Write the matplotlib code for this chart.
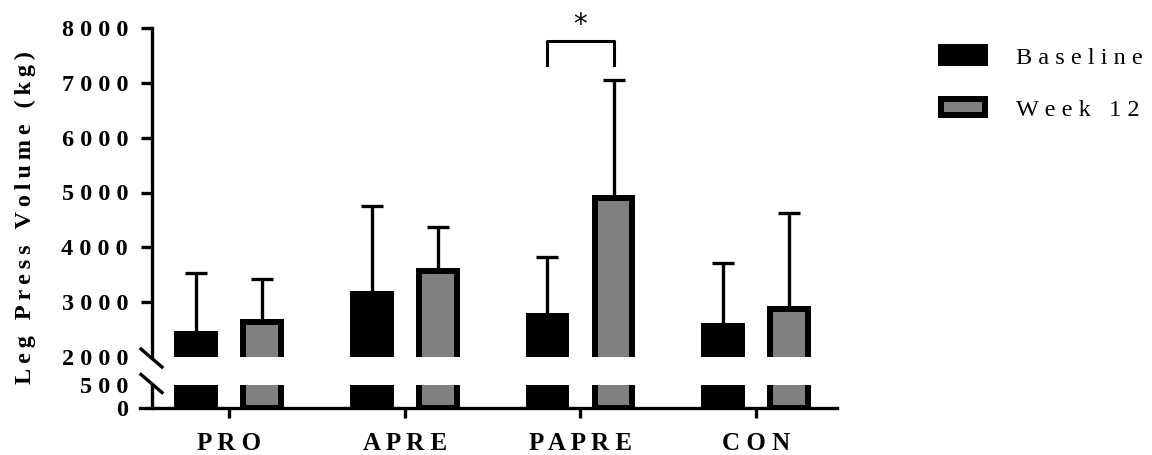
import matplotlib
matplotlib.use("Agg")
import matplotlib.pyplot as plt
import numpy as np

# ---- data ----
categories = ["PRO", "APRE", "PAPRE", "CON"]
series_names = ["Baseline", "Week 12"]
baseline = [2410, 3140, 2750, 2565]
week12 = [2625, 3570, 4900, 2880]
baseline_sd = [1115, 1620, 1070, 1150]
week12_sd = [795, 795, 2160, 1750]
upper_ticks = [2000, 3000, 4000, 5000, 6000, 7000, 8000]
lower_ticks = [0, 500]
y_label = "Leg Press Volume (kg)"
sig_pair = ("PAPRE", "*")


def spaced(s, sep=" "):
    return sep.join(list(s))


plt.rcParams['font.family'] = ['Liberation Serif', 'DejaVu Serif']

W, H = 1152, 455
fig = plt.figure(figsize=(W / 100, H / 100), dpi=100)


def fx(px):
    return px / W


def fy(py):
    return 1 - py / H


left, right = 140, 837
ax_up = fig.add_axes([fx(left), fy(356.7), fx(right) - fx(left), fy(28.3) - fy(356.7)])
ax_lo = fig.add_axes([fx(left), fy(408.3), fx(right) - fx(left), fy(385) - fy(408.3)])

x = np.arange(len(categories))
off = 0.188
bw = 0.216
lw_edge = 4.3
gray = "#808080"
xlim = (-0.5085, 3.4607)
spine_x = -0.442
spine_lw = 2.4

for ax in (ax_up, ax_lo):
    b1 = ax.bar(x - off, baseline, bw, color="black", edgecolor="black", linewidth=lw_edge, zorder=3)
    b2 = ax.bar(x + off, week12, bw, color=gray, edgecolor="black", linewidth=lw_edge, zorder=3)
    ax.set_xlim(*xlim)
    ax.spines['top'].set_visible(False)
    ax.spines['right'].set_visible(False)
    ax.spines['left'].set_position(('data', spine_x))
    ax.spines['left'].set_linewidth(spine_lw)
    ax.spines['bottom'].set_linewidth(spine_lw)
    if ax is ax_up:
        bars_handles = (b1, b2)

# error bars (upper only)
ax_up.errorbar(x - off, baseline, yerr=[np.zeros(4), baseline_sd], fmt='none', ecolor='black',
               elinewidth=2.4, capsize=8, capthick=2.4, zorder=2)
ax_up.errorbar(x + off, week12, yerr=[np.zeros(4), week12_sd], fmt='none', ecolor='black',
               elinewidth=2.4, capsize=8, capthick=2.4, zorder=2)

tick_font = dict(family='Liberation Serif', weight='bold', size=17.5)
cat_font = dict(family='Liberation Serif', weight='bold', size=18)

# upper axis
ax_up.set_ylim(2000, 8000)
ax_up.spines['bottom'].set_visible(False)
ax_up.set_xticks([])
ax_up.set_yticks(upper_ticks)
ax_up.set_yticklabels([spaced(str(t)) for t in upper_ticks], fontdict=tick_font)
ax_up.tick_params(axis='y', length=8, width=spine_lw, pad=9, direction='out')
ax_up.yaxis.get_major_ticks()[0].tick1line.set_visible(False)

# lower axis
ax_lo.set_ylim(0, 500)
ax_lo.set_yticks(lower_ticks)
ax_lo.set_yticklabels([spaced(str(t)) for t in lower_ticks], fontdict=tick_font)
ax_lo.tick_params(axis='y', length=0, pad=17)
ax_lo.set_xticks(x)
ax_lo.set_xticklabels([spaced(c) for c in categories], fontdict=cat_font)
ax_lo.tick_params(axis='x', length=7, width=spine_lw, pad=10, direction='out')

# break marks
for yc in (358, 383.5):
    fig.add_artist(plt.Line2D([fx(141), fx(162)], [fy(yc - 9), fy(yc + 9)], color='black', lw=2.4))

# y label
fig.text(fx(25), fy(218), spaced(y_label, "\u2009"), rotation=90,
         ha='center', va='center', fontsize=17.5, fontweight='bold', family='Liberation Serif')

# significance bracket
i = categories.index(sig_pair[0])
xl, xr = i - off, i + off
ax_up.plot([xl, xl, xr, xr], [7333, 7759, 7759, 7333], color='black', lw=2.2,
           solid_joinstyle='round', clip_on=False, zorder=4)
ax_up.text(i, 7800, sig_pair[1], ha='center', va='bottom', fontsize=20, family='DejaVu Sans')

# legend
leg = ax_up.legend(bars_handles, [spaced(s) for s in series_names], loc='upper left',
                   bbox_to_anchor=(fx(941), fy(47)), bbox_transform=fig.transFigure,
                   frameon=False, handlelength=1.8, handleheight=0.65,
                   handletextpad=1.3, labelspacing=1.25, borderpad=0, borderaxespad=0,
                   prop=dict(family='Liberation Serif', size=17.5))

fig.savefig("out.png", dpi=100)
